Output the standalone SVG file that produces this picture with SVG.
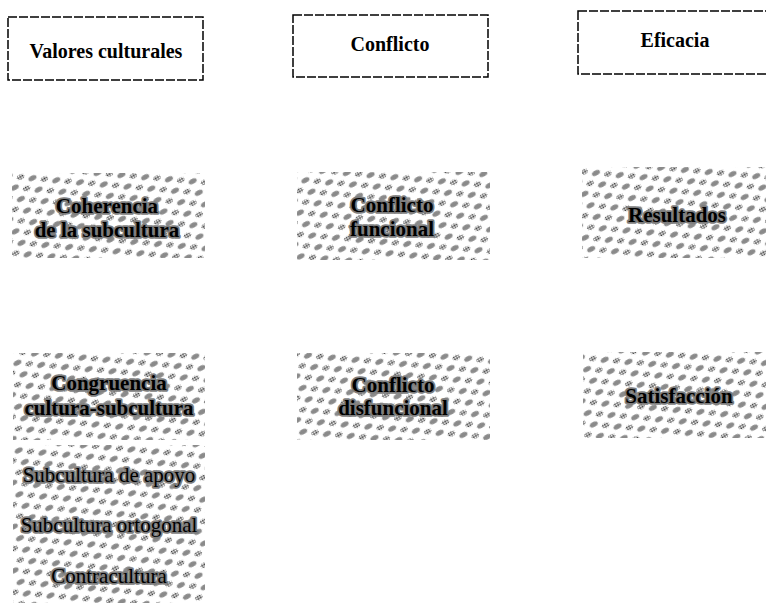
<svg xmlns="http://www.w3.org/2000/svg" width="766" height="603" viewBox="0 0 766 603">
  <defs>
    <pattern id="chk" width="2" height="2" patternUnits="userSpaceOnUse">
      <rect width="1" height="1" fill="#3a3a3a"/>
      <rect x="1" y="1" width="1" height="1" fill="#3a3a3a"/>
    </pattern>
    <pattern id="tex" width="20" height="13" patternUnits="userSpaceOnUse" patternTransform="rotate(-28)">
      <rect width="20" height="13" fill="#ffffff"/>
      <ellipse cx="5" cy="3.5" rx="4.3" ry="2.5" fill="#8a8a8a"/>
      <ellipse cx="15" cy="10" rx="3.8" ry="2.4" fill="url(#chk)"/>
    </pattern>
  </defs>
  <style>
    .hdr { fill: #ffffff; stroke: #000000; stroke-width: 1.5; stroke-dasharray: 9 2; }
    .hdrt { font-family: "Liberation Serif", "Times New Roman", serif; font-weight: bold; font-size: 20px; fill: #000000; text-anchor: middle; }
    .sh { fill: url(#tex); }
    .sht { font-family: "Liberation Serif", "Times New Roman", serif; font-weight: bold; font-size: 21px; fill: #000000; text-anchor: middle; stroke: #7d7d7d; stroke-width: 3.5; stroke-linejoin: round; paint-order: stroke; }
    .shn { font-family: "Liberation Serif", "Times New Roman", serif; font-weight: normal; font-size: 21px; fill: #000000; text-anchor: middle; stroke: #7d7d7d; stroke-width: 3.5; stroke-linejoin: round; paint-order: stroke; }
  </style>
  <rect width="766" height="603" fill="#ffffff"/>

  <g id="valores-culturales">
    <rect class="hdr" x="8" y="17" width="195" height="63"/>
    <text class="hdrt" x="106" y="58">Valores culturales</text>
  </g>
  <g id="conflicto">
    <rect class="hdr" x="293" y="15" width="195" height="62"/>
    <text class="hdrt" x="390" y="51">Conflicto</text>
  </g>
  <g id="eficacia">
    <rect class="hdr" x="578" y="11" width="200" height="63"/>
    <text class="hdrt" x="675" y="47">Eficacia</text>
  </g>

  <g id="coherencia">
    <rect class="sh" x="12" y="173" width="193" height="85"/>
    <text class="sht" x="107" y="213">Coherencia</text>
    <text class="sht" x="107" y="237">de la subcultura</text>
  </g>
  <g id="conflicto-funcional">
    <rect class="sh" x="297" y="172" width="193" height="88"/>
    <text class="sht" x="392" y="212">Conflicto</text>
    <text class="sht" x="392" y="236">funcional</text>
  </g>
  <g id="resultados">
    <rect class="sh" x="582" y="167" width="194" height="91"/>
    <text class="sht" x="677" y="222">Resultados</text>
  </g>

  <g id="congruencia">
    <rect class="sh" x="13" y="353" width="192" height="87"/>
    <text class="sht" x="109" y="390">Congruencia</text>
    <text class="sht" x="109" y="415">cultura-subcultura</text>
  </g>
  <g id="conflicto-disfuncional">
    <rect class="sh" x="297" y="353" width="193" height="87"/>
    <text class="sht" x="393" y="392">Conflicto</text>
    <text class="sht" x="393" y="415">disfuncional</text>
  </g>
  <g id="satisfaccion">
    <rect class="sh" x="583" y="352" width="193" height="86"/>
    <text class="sht" x="679" y="403">Satisfacción</text>
  </g>

  <g id="tipos-subcultura">
    <rect class="sh" x="13" y="445" width="192" height="158"/>
    <text class="shn" x="109" y="482">Subcultura de apoyo</text>
    <text class="shn" x="109" y="532">Subcultura ortogonal</text>
    <text class="shn" x="109" y="583">Contracultura</text>
  </g>

  <g id="connectors"/>
</svg>
